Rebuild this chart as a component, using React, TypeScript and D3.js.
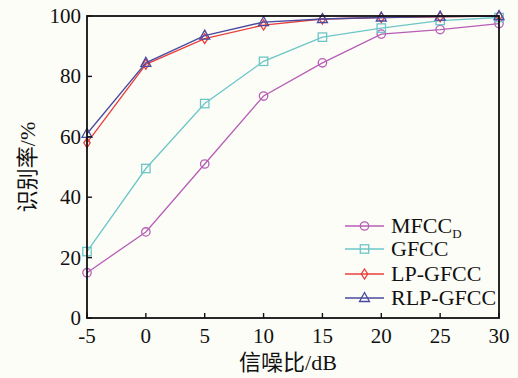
import React from "react";
import * as d3 from "d3";

const snr = [-5, 0, 5, 10, 15, 20, 25, 30];
const mfccD = [15, 28.5, 51, 73.5, 84.5, 94, 95.5, 97.5];
const gfcc = [22, 49.5, 71, 85, 93, 96, 98.5, 99.5];
const lpGfcc = [58, 84, 92.5, 97, 99, 99.5, 99.7, 100];
const rlpGfcc = [61, 84.5, 93.5, 98, 99, 99.5, 99.8, 100];
const xTicks = [-5, 0, 5, 10, 15, 20, 25, 30];
const yTicks = [0, 20, 40, 60, 80, 100];

const series = [
  { name: "MFCC", sub: "D", values: mfccD, color: "#b65eb6", marker: "circle" },
  { name: "GFCC", sub: "", values: gfcc, color: "#6cc6c8", marker: "square" },
  { name: "LP-GFCC", sub: "", values: lpGfcc, color: "#e8403c", marker: "diamond" },
  { name: "RLP-GFCC", sub: "", values: rlpGfcc, color: "#4a4aa0", marker: "triangle" },
];

const W = 518, H = 378;
const L = 87, R = 499, T = 16, B = 318;
const serif = "'Liberation Serif', 'Times New Roman', serif";
const cjk = "'Liberation Serif', 'Noto Sans CJK SC', serif";

function Marker({ type, x, y, color }: { type: string; x: number; y: number; color: string }) {
  const sw = 1.3;
  if (type === "circle") return <circle cx={x} cy={y} r={4.2} fill="none" stroke={color} strokeWidth={sw} />;
  if (type === "square") return <rect x={x - 4.2} y={y - 4.2} width={8.4} height={8.4} fill="none" stroke={color} strokeWidth={sw} />;
  if (type === "diamond") return <path d={`M${x},${y - 5}L${x + 3.2},${y}L${x},${y + 5}L${x - 3.2},${y}Z`} fill="none" stroke={color} strokeWidth={sw} />;
  return <path d={`M${x},${y - 5.5}L${x + 5},${y + 3.5}L${x - 5},${y + 3.5}Z`} fill="none" stroke={color} strokeWidth={sw} />;
}

export default function App() {
  const x = d3.scaleLinear().domain([-5, 30]).range([L, R]);
  const y = d3.scaleLinear().domain([0, 100]).range([B, T]);
  const line = d3.line<number>().x((_, i) => x(snr[i])).y((d) => y(d));
  const legendRows = [226, 249, 274, 298];
  return (
    <svg width={W} height={H} style={{ position: "absolute", left: 0, top: 0, background: "#fdfdf8" }}>
      <rect x={0} y={0} width={W} height={H} fill="#fdfdf8" />
      {series.map((s) => (
        <g key={s.name}>
          <path d={line(s.values) || ""} fill="none" stroke={s.color} strokeWidth={1.3} />
          {s.values.map((v, i) => (
            <Marker key={i} type={s.marker} x={x(snr[i])} y={y(v)} color={s.color} />
          ))}
        </g>
      ))}
      <rect x={L} y={T} width={R - L} height={B - T} fill="none" stroke="#111" strokeWidth={1.8} />
      {xTicks.map((t) => (
        <g key={t}>
          <line x1={x(t)} x2={x(t)} y1={B} y2={B - 5} stroke="#111" strokeWidth={1.4} />
          <text x={x(t)} y={B + 25} textAnchor="middle" fontFamily={serif} fontSize={21} fill="#111">{t}</text>
        </g>
      ))}
      {yTicks.map((t) => (
        <g key={t}>
          <line x1={L} x2={L + 5} y1={y(t)} y2={y(t)} stroke="#111" strokeWidth={1.4} />
          <text x={L - 6} y={y(t) + 7} textAnchor="end" fontFamily={serif} fontSize={21} fill="#111">{t}</text>
        </g>
      ))}
      <text x={288} y={370} textAnchor="middle" fontFamily={cjk} fontSize={22} fill="#111">信噪比/dB</text>
      <text transform={`translate(35,167) rotate(-90)`} textAnchor="middle" fontFamily={cjk} fontSize={22} fill="#111">识别率/%</text>
      {series.map((s, i) => {
        const ly = legendRows[i];
        return (
          <g key={s.name}>
            <line x1={345} x2={384} y1={ly} y2={ly} stroke={s.color} strokeWidth={1.3} />
            <Marker type={s.marker} x={364.5} y={ly} color={s.color} />
            <text x={391} y={ly + 7} fontFamily={serif} fontSize={22} fill="#111">
              {s.name}
              {s.sub ? <tspan fontSize={13} dy={5}>{s.sub}</tspan> : null}
            </text>
          </g>
        );
      })}
    </svg>
  );
}
